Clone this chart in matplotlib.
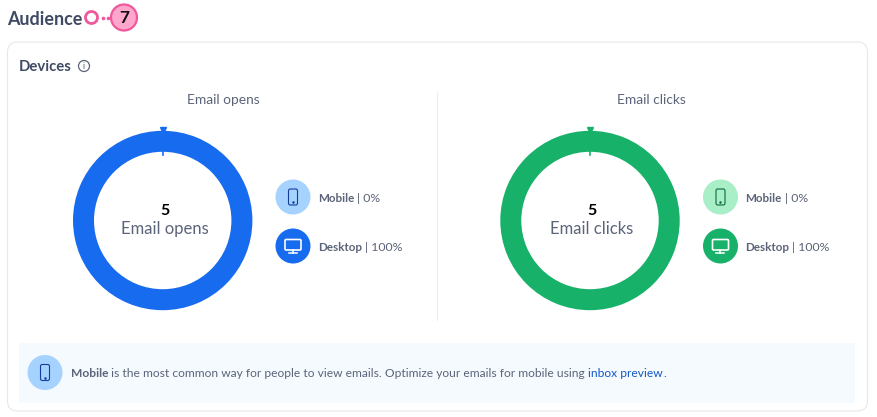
import matplotlib
matplotlib.use('Agg')
import matplotlib.pyplot as plt
from matplotlib.patches import Circle, FancyBboxPatch, Rectangle

plt.rcParams['font.family'] = ['Lato', 'DejaVu Sans']

titles = ['Email opens', 'Email clicks']
totals = [5, 5]
devices = ['Mobile', 'Desktop']
shares = [[0, 100], [0, 100]]
share_labels = ['0%', '100%']

dark = '#3f4a63'
grey = '#5b6478'
ring_cols = ['#176bef', '#17b169']
light_cols = ['#a6d2ff', '#a8eec6']
icon_cols = ['#123f9c', '#0c6a3e']

W, H = 878, 417
fig = plt.figure(figsize=(W / 100, H / 100), dpi=100)

# card sits behind the donuts, everything else on top
bg = fig.add_axes([0, 0, 1, 1], zorder=0)
bg.set_xlim(0, W)
bg.set_ylim(H, 0)
bg.axis('off')
ax = fig.add_axes([0, 0, 1, 1], zorder=2)
ax.set_xlim(0, W)
ax.set_ylim(H, 0)
ax.axis('off')


def rbox(a, x, y, w, h, r, **kw):
    p = FancyBboxPatch((x, y), w, h, boxstyle='round,pad=0,rounding_size=%s' % r, **kw)
    a.add_patch(p)


def phone(cx, cy, col):
    rbox(ax, cx - 4.5, cy - 8, 9, 16, 1.8, fc='none', ec=col, lw=0.8)
    ax.plot([cx], [cy + 5], 'o', ms=0.8, color=col)


def monitor(cx, cy, col):
    rbox(ax, cx - 8, cy - 6.5, 16, 10.5, 1.2, fc='none', ec=col, lw=1.2)
    ax.plot([cx, cx], [cy + 4, cy + 7], color=col, lw=1.1)
    ax.plot([cx - 4, cx + 4], [cy + 7, cy + 7], color=col, lw=1.1)


# header
ax.text(7, 19, 'Audience', fontsize=12.9, fontweight='bold', color=dark, va='center')
ax.add_patch(Circle((91.5, 17.5), 6, fc='white', ec='#f0589c', lw=2))
ax.plot([103, 108], [17.5, 17.5], ls='none', marker='o', ms=1.6, color='#f0589c')
ax.add_patch(Circle((124, 17.5), 13, fc='#ffa6cd', ec='#f0589c', lw=1.6))
ax.text(124, 18, '7', fontsize=12.5, fontweight='bold', color='#111111', ha='center', va='center')

# card
rbox(bg, 7.5, 42, 860, 369, 10, fc='white', ec='#e6e8ec', lw=0.8)
ax.text(19, 67, 'Devices', fontsize=10.7, fontweight='bold', color=dark, va='center')
ax.add_patch(Circle((84, 66), 5.5, fc='none', ec=grey, lw=0.9))
ax.text(84, 66.3, 'i', fontsize=6.5, color=grey, ha='center', va='center')
ax.plot([437, 437], [92, 320], color='#eceef1', lw=0.8)

centers = [162.7, 590]
title_x = [223, 651]
ring_r = 89.7
hole_r = 68.7
cy = 220.5
r = fig.canvas.get_renderer()
for i, cx in enumerate(centers):
    ax.text(title_x[i], 100, titles[i], fontsize=9.9, color=grey, ha='center', va='center')
    # donut
    pie_ax = fig.add_axes([(cx - ring_r) / W, 1 - (cy + ring_r) / H, 2 * ring_r / W, 2 * ring_r / H], zorder=1)
    pie_ax.pie(shares[i], colors=[light_cols[i], ring_cols[i]], radius=1, startangle=90,
               counterclock=False, wedgeprops={'width': (ring_r - hole_r) / ring_r})
    pie_ax.set_xlim(-1, 1)
    pie_ax.set_ylim(-1, 1)
    # the little ticks left by the empty slice
    ax.plot([cx], [129.5], marker='v', ms=3.8, color=ring_cols[i])
    ax.plot([cx, cx], [150, 155], color=ring_cols[i], lw=1.2)
    ax.text(cx + 2, 211, str(totals[i]), fontsize=11.5, fontweight='bold', color='black', ha='center', va='center')
    ax.text(cx + 2, 229, titles[i], fontsize=12, color=grey, ha='center', va='center')
    # legend
    lx = [293, 720.5][i]
    for j, yy in enumerate([197, 246]):
        fc = light_cols[i] if j == 0 else ring_cols[i]
        ax.add_patch(Circle((lx, yy), 17.5, fc=fc, ec='none'))
        if j == 0:
            phone(lx, yy, icon_cols[i])
        else:
            monitor(lx, yy, 'white')
        t = ax.text(lx + 25, yy + 1.5, devices[j], fontsize=8.4, fontweight='bold', color=grey, va='center')
        bb = t.get_window_extent(r)
        ax.text(lx + 25 + bb.width + 3, yy + 1.5, '| ' + share_labels[j], fontsize=8.8, color=grey, va='center')

# note
ax.add_patch(Rectangle((19, 343), 836, 60, fc='#f5faff', ec='none', zorder=0))
ax.add_patch(Circle((45, 372.5), 17.5, fc='#a6d2ff', ec='none'))
phone(45, 372.5, icon_cols[0])
x = 71
for s, kw in [('Mobile', dict(fontweight='bold', color=grey)),
              (' is the most common way for people to view emails. Optimize your emails for mobile using ', dict(color=grey)),
              ('inbox preview', dict(color='#1257c9')),
              ('.', dict(color=grey))]:
    t = ax.text(x, 373.5, s.replace(' ', '\u00a0'), fontsize=8.62, va='center', **kw)
    x += t.get_window_extent(r).width

fig.savefig('out.png', dpi=100)
